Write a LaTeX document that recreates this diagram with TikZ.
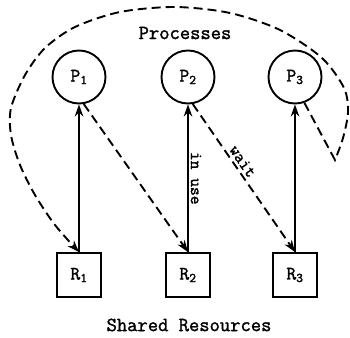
\documentclass[tikz,border=0pt]{standalone}
\usepackage{fontspec}
\setmonofont{Latin Modern Mono}[FakeBold=1.6]
\usetikzlibrary{arrows.meta}
\begin{document}
\begin{tikzpicture}[x=1pt,y=-1pt,
  every node/.style={font=\ttfamily\bfseries},
  proc/.style={draw,circle,line width=1.9pt,minimum size=53pt,inner sep=0pt,font=\ttfamily\bfseries\fontsize{19}{20}\selectfont},
  res/.style={draw,rectangle,line width=1.9pt,minimum size=44pt,inner sep=0pt,font=\ttfamily\bfseries\fontsize{19}{20}\selectfont},
  hold/.style={line width=1.7pt,-{Stealth[length=12pt,width=8.5pt]}},
  req/.style={line width=1.9pt,dash pattern=on 9pt off 5pt,-{Stealth[length=12pt,width=8.5pt]}},
  lbl/.style={font=\ttfamily\bfseries\fontsize{17}{18}\selectfont,inner sep=1pt}]
\useasboundingbox (0,0) rectangle (350,337);

% processes
\node[proc] (P1) at (79,77) {P\textsubscript{1}};
\node[proc] (P2) at (188,77) {P\textsubscript{2}};
\node[proc] (P3) at (295,77) {P\textsubscript{3}};

% resources
\node[res] (R1) at (79,275) {R\textsubscript{1}};
\node[res] (R2) at (188,275) {R\textsubscript{2}};
\node[res] (R3) at (295,275) {R\textsubscript{3}};

% headings
\node[font=\ttfamily\bfseries\fontsize{20}{22}\selectfont] (ptitle) at (185,33) {Processes};
\node[font=\ttfamily\bfseries\fontsize{20}{22}\selectfont] (rtitle) at (189,325) {Shared Resources};

% resources held by processes
\draw[hold] (R1.north) -- (P1.south);
\draw[hold] (R2.north) -- (P2.south)
  node[lbl,pos=0.5,rotate=-90,anchor=south,inner sep=2pt] {in use};
\draw[hold] (R3.north) -- (P3.south);

% pending requests
\draw[req] (P1.-80) -- (R2.north);
\draw[req] (P2.-80) -- node[lbl,sloped,above,pos=0.42,inner sep=2.5pt] {wait} (R3.north);
\draw[req] (P3.-70) -- (335,160) -- plot[smooth] coordinates {
  (335,160) (343,138) (348,112) (344,88) (322,58) (280,30) (230,13)
  (175,7) (120,12) (75,27) (45,48) (25,75) (11,108) (11,135)
  (20,165) (35,195) (55,225) (R1.north)};
\end{tikzpicture}
\end{document}
